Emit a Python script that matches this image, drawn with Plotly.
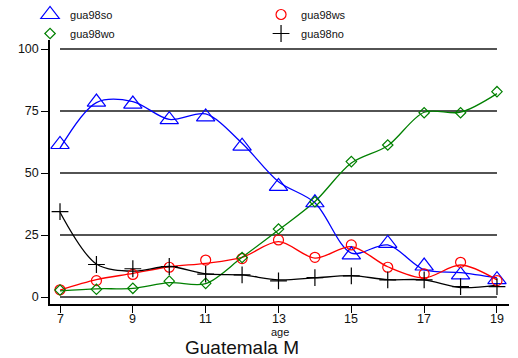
import plotly.graph_objects as go

ages = [7, 8, 9, 10, 11, 12, 13, 14, 15, 16, 17, 18, 19]

# observed points (markers)
so_pts = [61.5, 78.6, 77.8, 71.5, 72.6, 60.8, 44.6, 38.0, 17.0, 21.6, 12.5, 8.9, 7.0]
ws_pts = [2.9, 6.6, 9.1, 12.0, 14.9, 15.5, 23.0, 16.0, 21.0, 12.0, 9.3, 14.0, 6.6]
wo_pts = [2.8, 3.1, 3.5, 6.4, 5.5, 15.9, 27.4, 38.4, 54.6, 61.3, 74.3, 74.3, 82.8]
no_pts = [34.4, 13.1, 11.4, 12.3, 9.2, 8.9, 6.5, 7.8, 8.5, 6.9, 6.9, 4.2, 4.2]

# smoothed curves (at each age)
so_smooth = [60.0, 78.4, 78.8, 71.6, 73.8, 62.0, 46.5, 38.0, 17.7, 21.0, 11.0, 9.8, 7.7]
ws_smooth = [2.8, 7.0, 9.5, 12.2, 13.6, 16.0, 22.3, 15.7, 20.3, 12.2, 7.7, 12.9, 6.9]
wo_smooth = [2.5, 3.3, 3.5, 5.8, 5.4, 16.0, 27.0, 38.5, 54.0, 61.0, 74.5, 74.5, 82.0]
no_smooth = [34.2, 13.3, 10.4, 12.3, 9.3, 8.9, 6.9, 7.7, 8.6, 7.0, 6.9, 3.8, 4.8]

names = ["gua98so", "gua98ws", "gua98wo", "gua98no"]
y_ticks = [0, 25, 50, 75, 100]
x_ticks = [7, 9, 11, 13, 15, 17, 19]

SANS = "Liberation Sans, Arial, sans-serif"

series = [
    (names[0], so_pts, so_smooth, "#0000ff", "triangle-up-open", 16),
    (names[1], ws_pts, ws_smooth, "#ff0000", "circle-open", 10),
    (names[2], wo_pts, wo_smooth, "#008000", "diamond-open", 8),
    (names[3], no_pts, no_smooth, "#000000", "cross-thin-open", 12),
]

fig = go.Figure()

for name, pts, sm, col, sym, sz in series:
    fig.add_trace(go.Scatter(
        x=ages, y=sm, mode="lines", line=dict(color=col, width=1.3, shape="spline", smoothing=0.9),
        showlegend=False, hoverinfo="skip"))
for name, pts, sm, col, sym, sz in series:
    fig.add_trace(go.Scatter(
        x=ages, y=pts, mode="markers", name=name,
        marker=dict(symbol=sym, size=sz, color=col, line=dict(color=col, width=1.2)),
        showlegend=True))

for v in y_ticks:
    fig.add_shape(type="line", xref="x", yref="y", x0=ages[0], x1=ages[-1], y0=v, y1=v,
                  line=dict(color="#1a1a1a", width=1.5), layer="below")

annotations = [
    dict(text=str(t), xref="x", yref="paper", x=t, y=-(319 - 304) / 264,
         xanchor="center", yanchor="middle", showarrow=False,
         font=dict(family=SANS, size=12.5, color="#111111"))
    for t in x_ticks
]
annotations += [
    dict(text="age", xref="paper", yref="paper", x=(280 - 50) / 459,
         y=-(332 - 304) / 264, xanchor="center", yanchor="middle",
         showarrow=False, font=dict(family=SANS, size=11, color="#111111")),
    dict(text="Guatemala M", xref="paper", yref="paper", x=(242 - 50) / 459,
         y=-(347 - 304) / 264, xanchor="center", yanchor="middle",
         showarrow=False, font=dict(family=SANS, size=19, color="#111111")),
]

fig.update_layout(
    width=518, height=358,
    margin=dict(l=50, r=9, t=40, b=54, autoexpand=False),
    paper_bgcolor="white", plot_bgcolor="white",
    font=dict(family=SANS, color="#111111", size=12.5),
    showlegend=True,
    legend=dict(orientation="h", x=0.058, xanchor="left", y=1.0, yanchor="top",
                yref="container", xref="container", entrywidth=186, entrywidthmode="pixels",
                font=dict(family=SANS, size=11, color="#111111"),
                traceorder="normal", itemwidth=30, tracegroupgap=0,
                bgcolor="rgba(0,0,0,0)"),
    xaxis=dict(range=[6.725, 19.33], showgrid=False, zeroline=False,
               showline=True, linecolor="black", linewidth=1.5,
               tickmode="array", tickvals=x_ticks, showticklabels=False,
               ticks="outside", ticklen=7, tickwidth=1.2, tickcolor="black"),
    yaxis=dict(range=[-2.82, 103.63], showgrid=False, zeroline=False,
               showline=True, linecolor="black", linewidth=1.5,
               tickmode="array", tickvals=y_ticks, ticktext=[str(t) for t in y_ticks],
               ticks="outside", ticklen=7, tickwidth=1.2, tickcolor="black",
               tickfont=dict(family=SANS, size=12.5)),
    annotations=annotations,
)

fig.write_html("out.html")
